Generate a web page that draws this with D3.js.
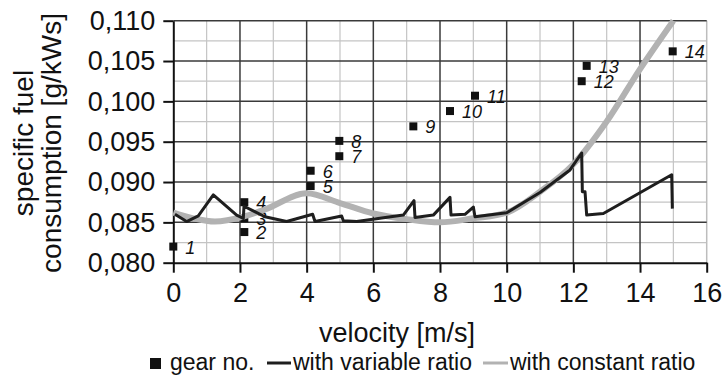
<!DOCTYPE html>
<html lang="en">
  <head>
    <meta charset="UTF-8" />
    <title>specific fuel consumption</title>
    <script src="https://d3js.org/d3.v7.min.js"></script>
    <style>
      body { margin: 0; background: #fff; }
      text { font-family: 'Liberation Sans', Arial, sans-serif; fill: #111; }
    </style>
  </head>
  <body>
    <div id="chart"></div>
    <script>
      // gear points (velocity, consumption, gear number)
      const gearNo = [1, 2, 3, 4, 5, 6, 7, 8, 9, 10, 11, 12, 13, 14]
      const gearV = [0, 2.13, 2.13, 2.13, 4.12, 4.12, 4.98, 4.98, 7.2, 8.3, 9.05, 12.25, 12.4, 14.98]
      const gearF = [0.082, 0.0838, 0.0855, 0.0875, 0.0895, 0.0914, 0.0932, 0.0951, 0.0969, 0.0988, 0.1007, 0.1025, 0.1044, 0.1062]

      // with variable ratio
      const varV = [0.05, 0.4, 0.75, 1.2, 1.9, 2.1, 2.12, 2.75, 3.4, 4.18, 4.25, 5.05, 5.1, 5.5, 6.9, 7.22, 7.25, 7.8, 8.3, 8.33, 8.75, 9.0, 9.05, 10.0, 11.0, 11.9, 12.25, 12.27, 12.35, 12.4, 12.9, 14.95, 14.97]
      const varF = [0.086, 0.0851, 0.0858, 0.0884, 0.0859, 0.0855, 0.087, 0.0857, 0.0851, 0.086, 0.0851, 0.0858, 0.0852, 0.0851, 0.0859, 0.0877, 0.0856, 0.0859, 0.0881, 0.0859, 0.086, 0.0869, 0.0857, 0.0862, 0.0887, 0.0915, 0.0936, 0.0888, 0.0888, 0.0859, 0.0861, 0.0909, 0.0867]

      // with constant ratio
      const constV = [0, 0.6, 1.25, 2.1, 2.75, 4.0, 5.0, 6.0, 7.0, 8.0, 9.0, 10.0, 11.0, 12.0, 13.0, 14.0, 15.0]
      const constF = [0.0862, 0.0855, 0.0851, 0.0857, 0.0866, 0.0886, 0.0874, 0.0861, 0.0854, 0.085, 0.0855, 0.0862, 0.0888, 0.0922, 0.0975, 0.104, 0.11]

      const xTicks = [0, 2, 4, 6, 8, 10, 12, 14, 16]
      const yTicks = [0.08, 0.085, 0.09, 0.095, 0.1, 0.105, 0.11]

      const margin = { top: 20.7, right: 17.3, bottom: 115.3, left: 173.3 },
        width = 724 - margin.left - margin.right,
        height = 378 - margin.top - margin.bottom

      const svg = d3
        .select('#chart')
        .append('svg')
        .attr('width', 724)
        .attr('height', 378)
      const g = svg.append('g').attr('transform', `translate(${margin.left}, ${margin.top})`)

      const x = d3.scaleLinear().domain([0, 16]).range([0, width])
      const y = d3.scaleLinear().domain([0.08, 0.11]).range([height, 0])

      const locale = d3.formatLocale({ decimal: ',', thousands: '.', grouping: [3], currency: ['', ''] })
      const fmt = locale.format('.3f')

      // minor grid
      g.append('g')
        .selectAll('line')
        .data(d3.range(1, 16, 2))
        .join('line')
        .attr('x1', d => x(d)).attr('x2', d => x(d))
        .attr('y1', 0).attr('y2', height)
        .attr('stroke', '#c4c4c4').attr('stroke-width', 1.2)
      g.append('g')
        .selectAll('line')
        .data(d3.range(0.0825, 0.11, 0.005))
        .join('line')
        .attr('x1', 0).attr('x2', width)
        .attr('y1', d => y(d)).attr('y2', d => y(d))
        .attr('stroke', '#c4c4c4').attr('stroke-width', 1.2)
      // right border
      g.append('line')
        .attr('x1', width).attr('x2', width).attr('y1', 0).attr('y2', height)
        .attr('stroke', '#bdbdbd').attr('stroke-width', 1.5)

      // major grid
      g.append('g')
        .selectAll('line')
        .data(xTicks.slice(1, -1))
        .join('line')
        .attr('x1', d => x(d)).attr('x2', d => x(d))
        .attr('y1', 0).attr('y2', height)
        .attr('stroke', '#3a3a3a').attr('stroke-width', 1.5)
      g.append('g')
        .selectAll('line')
        .data(yTicks.slice(1))
        .join('line')
        .attr('x1', 0).attr('x2', width)
        .attr('y1', d => y(d)).attr('y2', d => y(d))
        .attr('stroke', '#3a3a3a').attr('stroke-width', 1.5)

      // axes
      const xAxis = g.append('g')
        .attr('transform', `translate(0, ${height})`)
        .call(d3.axisBottom(x).tickValues(xTicks).tickSize(10).tickPadding(10).tickSizeOuter(0))
      const yAxis = g.append('g')
        .call(d3.axisLeft(y).tickValues(yTicks).tickFormat(fmt).tickSize(10).tickPadding(8).tickSizeOuter(0))
      ;[xAxis, yAxis].forEach(a => {
        a.selectAll('.domain').attr('stroke', '#111').attr('stroke-width', 2)
        a.selectAll('.tick line').attr('stroke', '#111').attr('stroke-width', 2)
        a.selectAll('.tick text').attr('font-size', 27).attr('font-family', "'Liberation Sans', Arial, sans-serif").attr('fill', '#111')
      })
      xAxis.selectAll('.tick text').attr('dy', '0.71em')

      // gear points and labels
      const gears = gearNo.map((n, i) => ({ n, v: gearV[i], f: gearF[i] }))
      g.append('g')
        .selectAll('text')
        .data(gears)
        .join('text')
        .attr('x', d => x(d.v) + 12)
        .attr('y', d => y(d.f) + 7)
        .attr('font-size', 18)
        .attr('font-style', 'italic')
        .text(d => d.n)
      g.append('g')
        .selectAll('rect')
        .data(gears)
        .join('rect')
        .attr('x', d => x(d.v) - 4)
        .attr('y', d => y(d.f) - 4)
        .attr('width', 8)
        .attr('height', 8)
        .attr('fill', '#111')

      // lines
      const constData = constV.map((v, i) => [v, constF[i]])
      const varData = varV.map((v, i) => [v, varF[i]])
      g.append('path')
        .datum(constData)
        .attr('fill', 'none')
        .attr('stroke', '#b2b2b2')
        .attr('stroke-width', 6)
        .attr('stroke-linejoin', 'round')
        .attr('d', d3.line().x(d => x(d[0])).y(d => y(d[1])).curve(d3.curveMonotoneX))
      g.append('path')
        .datum(varData)
        .attr('fill', 'none')
        .attr('stroke', '#1e1e1e')
        .attr('stroke-width', 3)
        .attr('stroke-linejoin', 'round')
        .attr('d', d3.line().x(d => x(d[0])).y(d => y(d[1])))

      // axis titles
      svg.append('text')
        .attr('x', 397)
        .attr('y', 342)
        .attr('text-anchor', 'middle')
        .attr('font-size', 27)
        .text('velocity [m/s]')
      const yTitle = svg.append('text')
        .attr('transform', 'translate(0, 143) rotate(-90)')
        .attr('text-anchor', 'middle')
        .attr('font-size', 28)
      yTitle.append('tspan').attr('x', 0).attr('y', 33).text('specific fuel')
      yTitle.append('tspan').attr('x', 0).attr('y', 61).text('consumption [g/kWs]')

      // legend
      const leg = svg.append('g')
      leg.append('rect').attr('x', 150).attr('y', 358).attr('width', 11).attr('height', 11).attr('fill', '#111')
      leg.append('text').attr('x', 170).attr('y', 370).attr('font-size', 23).text('gear no.')
      leg.append('line').attr('x1', 267).attr('x2', 291).attr('y1', 363).attr('y2', 363).attr('stroke', '#1e1e1e').attr('stroke-width', 3)
      leg.append('text').attr('x', 293).attr('y', 370).attr('font-size', 23).text('with variable ratio')
      leg.append('line').attr('x1', 483).attr('x2', 508).attr('y1', 363).attr('y2', 363).attr('stroke', '#b2b2b2').attr('stroke-width', 3)
      leg.append('text').attr('x', 510).attr('y', 370).attr('font-size', 23).text('with constant ratio')
    </script>
  </body>
</html>
